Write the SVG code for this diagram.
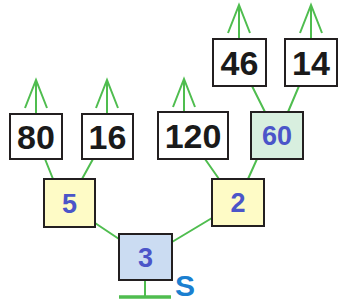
<svg xmlns="http://www.w3.org/2000/svg" width="356" height="305" viewBox="0 0 356 305">
<style>
.box{stroke:#231f20;stroke-width:2}
.w{fill:#ffffff}
.y{fill:#fefbc6}
.g{fill:#d8efdf}
.b{fill:#cbdcf2}
.lk{stroke:#4fbd4f;stroke-width:2;fill:none}
.big{font-family:"Liberation Sans",Arial,sans-serif;font-weight:bold;font-size:34px;fill:#1a1a1a;text-anchor:middle}
.num{font-family:"Liberation Sans",Arial,sans-serif;font-weight:bold;font-size:27px;fill:#4b55c9;text-anchor:middle}
</style>
<g id="connectors">
<path class="lk" d="M36 114V80M25 108L36 80L47 108"/>
<path class="lk" d="M107 114V80M96 108L107 80L118 108"/>
<path class="lk" d="M184 112V79M173 107L184 79L195 107"/>
<path class="lk" d="M239 39V5M228 33L239 5L250 33"/>
<path class="lk" d="M311 39V5M300 33L311 5L322 33"/>
<path class="lk" d="M252 86L265 112M299 86L288 112"/>
<path class="lk" d="M45 159L53 179M93 159L82 179"/>
<path class="lk" d="M205 159L219 179M257 159L248 179"/>
<path class="lk" d="M95 223L119 239M212 218L172 242"/>
<path class="lk" d="M145 280V297"/>
<path d="M119 297H171" stroke="#4fbd4f" stroke-width="3.5"/>
</g>
<g id="n80"><rect class="box w" x="10" y="114" width="52" height="45"/><text class="big" x="36" y="149">80</text></g>
<g id="n16"><rect class="box w" x="82" y="114" width="51" height="45"/><text class="big" x="107.5" y="149">16</text></g>
<g id="n120"><rect class="box w" x="158" y="112" width="70" height="47"/><text class="big" x="193" y="148">120</text></g>
<g id="n60"><rect class="box g" x="251" y="112" width="52" height="47"/><text class="num" x="277" y="145">60</text></g>
<g id="n46"><rect class="box w" x="213" y="39" width="53" height="47"/><text class="big" x="239.5" y="75">46</text></g>
<g id="n14"><rect class="box w" x="285" y="39" width="52" height="47"/><text class="big" x="311" y="75">14</text></g>
<g id="n5"><rect class="box y" x="44" y="179" width="51" height="48"/><text class="num" x="69.5" y="213">5</text></g>
<g id="n2"><rect class="box y" x="212" y="179" width="52" height="47"/><text class="num" x="238" y="212">2</text></g>
<g id="n3"><rect class="box b" x="119" y="234" width="53" height="46"/><text class="num" x="145.5" y="267">3</text></g>
<g id="s"><text x="185" y="296" font-family="Liberation Sans,Arial,sans-serif" font-weight="bold" font-size="30" fill="#1b7fd0" text-anchor="middle">S</text></g>
</svg>
